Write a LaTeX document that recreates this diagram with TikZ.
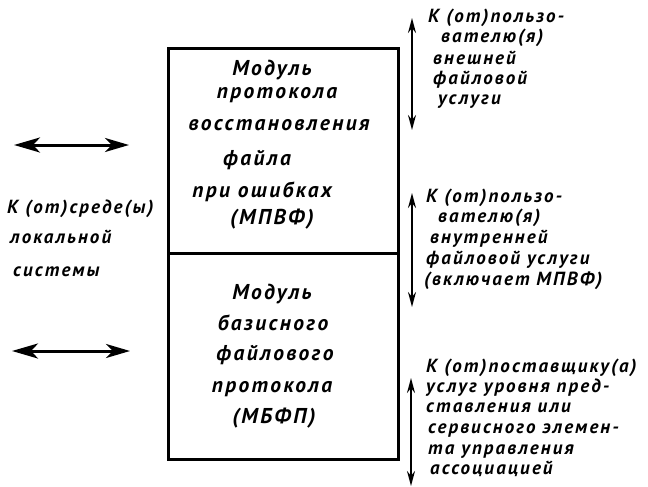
\documentclass[tikz,border=0pt]{standalone}
\usepackage{fontspec}
\newfontfamily\gostmod[LetterSpace=11]{PT Sans}
\newfontfamily\gostside[LetterSpace=11]{PT Sans}
\usetikzlibrary{arrows.meta}
\tikzset{
  modtext/.style={font=\gostmod\bfseries\itshape\fontsize{21.5}{25}\selectfont, inner sep=0pt, anchor=mid},
  sidetext/.style={font=\gostside\bfseries\itshape\fontsize{19}{21}\selectfont, inner sep=0pt, anchor=mid west},
  modbox/.style={draw, line width=2.6pt, anchor=north west, inner sep=0pt, minimum width=230pt},
  varrow/.style={line width=1.8pt, {Stealth[length=15pt,width=8pt]}-{Stealth[length=15pt,width=8pt]}},
  harrow/.style={line width=3pt, {Stealth[length=26pt,width=15pt,inset=7pt]}-{Stealth[length=24pt,width=14pt,inset=7pt]}},
}
\begin{document}
\begin{tikzpicture}[x=1pt,y=-1pt]
\useasboundingbox[fill=white] (0,0) rectangle (648,487);
% boxes
\node[modbox, minimum height=205pt] (upper) at (167,47) {};
\node[modbox, minimum height=206pt] (lower) at (167,252) {};
% upper box text
\node[modtext] (u1) at (272,73) {Модуль};
\node[modtext] (u2) at (277,96) {протокола};
\node[modtext] (u3) at (279,128) {восстановления};
\node[modtext] (u4) at (257,163) {файла};
\node[modtext] (u5) at (262,195) {при ошибках};
\node[modtext] (u6) at (272,222) {(МПВФ)};
% lower box text
\node[modtext] (l1) at (272,297) {Модуль};
\node[modtext] (l2) at (273,328) {базисного};
\node[modtext] (l3) at (275,358) {файлового};
\node[modtext] (l4) at (272,390) {протокола};
\node[modtext] (l5) at (274,421) {(МБФП)};
% left arrows and text
\coordinate (la1) at (14,145);
\coordinate (lb1) at (129,145);
\coordinate (la2) at (12,351);
\coordinate (lb2) at (130,351);
\draw[harrow] (la1) -- (lb1);
\draw[harrow] (la2) -- (lb2);
\node[sidetext] (e1) at (7,211) {К (от)среде(ы)};
\node[sidetext] (e2) at (10,241) {локальной};
\node[sidetext] (e3) at (13,274) {системы};
% right arrows
\coordinate (ra1) at (412,18);
\coordinate (rb1) at (412,130);
\coordinate (ra2) at (412,193);
\coordinate (rb2) at (412,307);
\coordinate (ra3) at (411,378);
\coordinate (rb3) at (411,486);
\draw[varrow] (ra1) -- (rb1);
\draw[varrow] (ra2) -- (rb2);
\draw[varrow] (ra3) -- (rb3);
% right texts
\node[sidetext] (t1) at (428,20) {К (от)пользо-};
\node[sidetext] (t2) at (441,40) {вателю(я)};
\node[sidetext] (t3) at (433,62) {внешней};
\node[sidetext] (t4) at (433,82) {файловой};
\node[sidetext] (t5) at (438,102) {услуги};
\node[sidetext] (s1) at (426,200) {К (от)пользо-};
\node[sidetext] (s2) at (438,220) {вателю(я)};
\node[sidetext] (s3) at (430,241) {внутренней};
\node[sidetext] (s4) at (426,262) {файловой услуги};
\node[sidetext] (s5) at (424,283) {(включает МПВФ)};
\node[sidetext] (p1) at (426,370) {К (от)поставщику(а)};
\node[sidetext] (p2) at (426,390) {услуг уровня пред-};
\node[sidetext] (p3) at (426,410) {ставления или};
\node[sidetext] (p4) at (428,431) {сервисного элемен-};
\node[sidetext] (p5) at (428,452) {та управления};
\node[sidetext] (p6) at (430,472) {ассоциацией};
\end{tikzpicture}
\end{document}
